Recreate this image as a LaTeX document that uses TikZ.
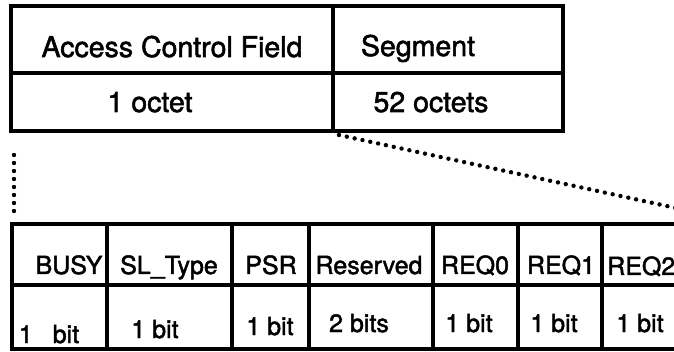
\documentclass[tikz,border=0pt]{standalone}
\usepackage{fontspec}
\setmainfont{TeX Gyre Heros}[FakeBold=1.8]
\usetikzlibrary{calc}

\tikzset{
  cell/.style={draw, rectangle, line width=3.2pt, anchor=north west, inner sep=0pt, outer sep=0pt},
  toplbl/.style={anchor=base, inner sep=0pt, font=\fontsize{28.5}{34}\selectfont},
  botlbl/.style={anchor=base, inner sep=0pt, font=\fontsize{25}{30}\selectfont},
  dotline/.style={line width=4.4pt, line cap=round, dash pattern=on 0pt off 8pt}
}

\begin{document}
\begin{tikzpicture}[x=1pt, y=-1pt]
  \useasboundingbox (0,0) rectangle (674,352);
  \clip (0,0) rectangle (674,352);

  % cell frame
  \node[cell, minimum width=322pt, minimum height=67pt] (acf) at (11,6) {};
  \node[cell, minimum width=230pt, minimum height=67pt] (seg) at (333,6) {};
  \node[cell, minimum width=322pt, minimum height=58pt] (acfb) at (11,73) {};
  \node[cell, minimum width=230pt, minimum height=58pt] (segb) at (333,73) {};

  \node[toplbl] (acflbl) at (172,57) {Access Control Field};
  \node[toplbl] (seglbl) at (418,56) {Segment};
  \node[toplbl] (acfsz) at (150,112) {1 octet};
  \node[toplbl] (segsz) at (431,112) {52 octets};

  % ACF bits
  \foreach \nm/\xl/\cw in {busy/12/95, sltype/107/125, psr/232/77, resv/309/124,
                           reqa/433/85, reqb/518/84, reqc/602/90} {
    \node[cell, minimum width=\cw pt, minimum height=61pt] (\nm) at (\xl,224) {};
    \node[cell, minimum width=\cw pt, minimum height=64pt] (\nm b) at (\xl,285) {};
  }

  \foreach \nm/\cx/\txt in {busy/69/BUSY, sltype/169/SL\_Type, psr/271/PSR,
                            resv/369/Reserved, reqa/475/REQ0, reqb/561/REQ1}
    \node[botlbl] (\nm lbl) at (\cx,274) {\txt};
  \node[botlbl, anchor=base west] (reqclbl) at (607,275) {REQ2};

  \foreach \nm/\cx/\by/\txt in {busy/49/343/{1\hspace{20pt}bit}, sltype/155/338/1 bit,
                                psr/270/335/1 bit, resv/359/332/2 bits, reqa/469/332/1 bit,
                                reqb/554/332/1 bit, reqc/640/332/1 bit}
    \node[botlbl] (\nm sz) at (\cx,\by) {\txt};

  % zoom lines
  \coordinate (zoomend) at (676,208);
  \draw[dotline] ($(segb.south west)+(6,4)$) -- (zoomend);
  \draw[dotline] ($(acfb.south west)+(3,24)$) -- ($(busy.north west)+(2,-9)$);
\end{tikzpicture}
\end{document}
